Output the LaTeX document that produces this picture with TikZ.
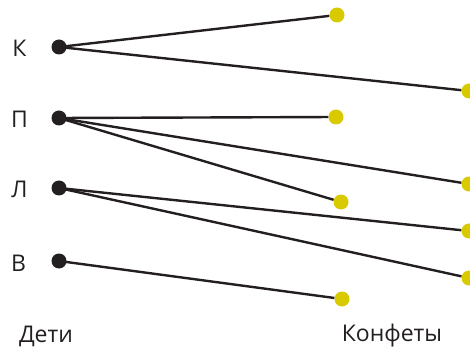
\documentclass[tikz,border=0pt]{standalone}
\usepackage{fontspec}
\setmainfont{Open Sans}
\definecolor{ydot}{RGB}{217,202,0}
\definecolor{ink}{RGB}{35,31,32}
\begin{document}
\begin{tikzpicture}[x=1pt,y=-1pt,
  kid/.style={circle,fill=ink,inner sep=0pt,minimum size=15pt},
  candy/.style={circle,fill=ydot,inner sep=0pt,minimum size=15pt},
  lbl/.style={font=\fontsize{23}{26}\selectfont,text=ink,inner sep=0pt},
  link/.style={draw=ink,line width=2.4pt}]
\useasboundingbox (0,0) rectangle (470,352);
\node[kid] (k) at (59,47) {};
\node[kid] (p) at (59,118) {};
\node[kid] (l) at (59,188) {};
\node[kid] (v) at (59,261) {};
\node[lbl] (lk) at (19.5,48) {К};
\node[lbl] (lp) at (19.5,119) {П};
\node[lbl] (ll) at (19.5,189) {Л};
\node[lbl] (lv) at (18.5,263) {В};
\node[candy] (c1) at (337,15) {};
\node[candy] (c2) at (469,91) {};
\node[candy] (c3) at (336,117) {};
\node[candy] (c4) at (469,184) {};
\node[candy] (c5) at (341,202) {};
\node[candy] (c6) at (469,231) {};
\node[candy] (c7) at (469,278) {};
\node[candy] (c8) at (342,299) {};
\draw[link] (k.center) -- (c1);
\draw[link] (k.center) -- (c2);
\draw[link] (p.center) -- (c3);
\draw[link] (p.center) -- (c4);
\draw[link] (p.center) -- (c5);
\draw[link] (l.center) -- (c6);
\draw[link] (l.center) -- (c7);
\draw[link] (v.center) -- (c8);
\node[lbl] (d) at (46,336) {Дети};
\node[lbl] (kf) at (392,336) {Конфеты};
\end{tikzpicture}
\end{document}
